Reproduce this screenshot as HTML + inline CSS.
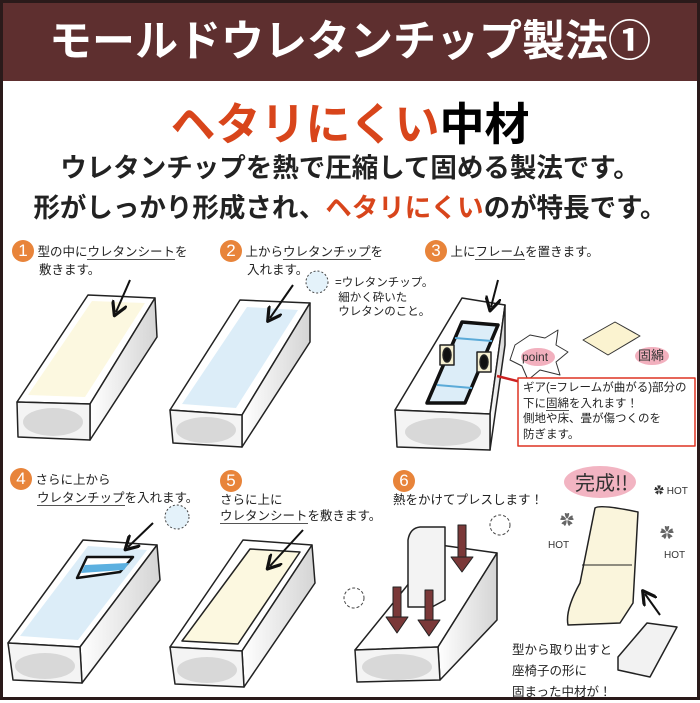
<!DOCTYPE html>
<html><head><meta charset="utf-8"><style>
body{margin:0;width:700px;height:700px;overflow:hidden;background:#fff;font-family:"Liberation Sans","Noto Sans CJK JP",sans-serif;}
.frame{position:absolute;left:0;top:0;width:694px;height:694px;border:3px solid #2a1a1a;}
.hd{position:absolute;left:0;top:0;width:700px;height:81px;background:#5e2f2f;color:#fff;font-weight:bold;font-size:43px;text-align:center;line-height:84px;}
.t{position:absolute;white-space:nowrap;}
.n{display:inline-block;width:22px;height:22px;border-radius:50%;background:#e8843a;color:#fff;text-align:center;line-height:22px;font-size:17px;}
.s{font-size:12.5px;color:#222;line-height:16px;}
u{text-decoration:none;border-bottom:1px solid #555;}
</style></head><body>
<div class="hd">モールドウレタンチップ製法①</div>
<div class="t" style="left:0;width:700px;text-align:center;top:88px;font-size:45px;font-weight:bold;"><span style="color:#d8451b">ヘタリにくい</span>中材</div>
<div class="t" style="left:0;width:700px;text-align:center;top:146px;font-size:26.5px;font-weight:bold;color:#222;">ウレタンチップを熱で圧縮して固める製法です。</div>
<div class="t" style="left:0;width:700px;text-align:center;top:186px;font-size:26.5px;font-weight:bold;color:#222;">形がしっかり形成され、<span style="color:#d8451b">ヘタリにくい</span>のが特長です。</div>

<svg style="position:absolute;left:0;top:0" width="700" height="700" stroke-linejoin="round">
<defs>
<linearGradient id="g" x1="0" x2="1"><stop offset="0" stop-color="#fff"/><stop offset="1" stop-color="#d4d4d4"/></linearGradient>
<marker id="ah" markerWidth="8" markerHeight="8" refX="5" refY="4" orient="auto"><path d="M0,0 L7,4 L0,8" fill="none" stroke="#111" stroke-width="1.6"/></marker>
</defs>
<g stroke="#222" stroke-width="1.5">
<polygon points="17,402 90,404 155,298 88,295" fill="#fff"/>
<polygon points="28,395 85,397 145,303 92,301" fill="#fcf8e0" stroke="none"/>
<polygon points="90,404 155,298 157,337 90,440" fill="url(#g)"/>
<polygon points="17,402 90,404 90,440 18,437" fill="#f4f4f4"/>
<polygon points="170,410 242,415 310,303 240,300" fill="#fff"/>
<polygon points="182,404 236,408 298,310 247,307" fill="#dcedf8" stroke="none"/>
<polygon points="242,415 310,303 310,342 242,447" fill="url(#g)"/>
<polygon points="170,410 242,415 242,447 173,443" fill="#f4f4f4"/>
<polygon points="395,410 490,414 505,305 462,298" fill="#fff"/>
<polygon points="490,414 505,305 505,345 490,450" fill="url(#g)"/>
<polygon points="395,410 490,414 490,450 397,447" fill="#f4f4f4"/>
<polygon points="462,322 498,325 465,403 427,403" fill="#dcedf8" stroke="#111" stroke-width="3.5"/>
<path d="M455,338 L492,341 M437,385 L472,388" stroke="#5aaad8" stroke-width="2"/>
<rect x="440" y="345" width="14" height="20" fill="#f5efd0"/><rect x="477" y="352" width="14" height="20" fill="#f5efd0"/>
<ellipse cx="447" cy="355" rx="4" ry="7" fill="#111"/><ellipse cx="484" cy="362" rx="4" ry="7" fill="#111"/>
<polygon points="8,643 80,647 157,545 83,540" fill="#fff"/>
<polygon points="20,636 78,640 147,550 88,546" fill="#dcedf8" stroke="none"/>
<polygon points="80,647 157,545 160,580 82,683" fill="url(#g)"/>
<polygon points="8,643 80,647 82,683 13,680" fill="#f4f4f4"/>
<polygon points="87,557 133,557 120,572 77,578" fill="#fff" stroke="#111" stroke-width="2.5"/>
<polygon points="85,565 129,563 124,570 81,573" fill="#5cb0e0" stroke="none"/>
<polygon points="170,647 242,651 312,545 243,540" fill="#fff"/>
<polygon points="182,641 238,644 300,552 250,549" fill="#fcf8e0"/>
<polygon points="242,651 312,545 315,583 244,687" fill="url(#g)"/>
<polygon points="170,647 242,651 244,687 175,684" fill="#f4f4f4"/>
<polygon points="355,650 438,647 497,553 440,545" fill="#fff"/>
<polygon points="438,647 497,553 497,620 440,680" fill="url(#g)"/>
<polygon points="355,650 438,647 440,680 357,682" fill="#f4f4f4"/>
<path d="M408,607 L408,540 Q410,528 420,527 L445,527 L445,600 L432,607 Z" fill="#f3f3f3"/>
<path d="M595,508 Q600,504 638,512 L633,603 L620,623 L568,625 Q565,610 580,583 Z" fill="#faf5dc"/>
<path d="M582,565 L632,565" stroke-width="1"/>
<polygon points="647,623 677,627 650,677 618,670 618,657" fill="#f2f2f2"/>
</g>
<g fill="#d8d8d8">
<ellipse cx="53" cy="422" rx="30" ry="14"/><ellipse cx="206" cy="430" rx="30" ry="13"/><ellipse cx="443" cy="432" rx="38" ry="14"/>
<ellipse cx="45" cy="666" rx="30" ry="13"/><ellipse cx="207" cy="670" rx="30" ry="13"/><ellipse cx="397" cy="667" rx="35" ry="13"/>
</g>
<g stroke="#111" stroke-width="2" fill="none" marker-end="url(#ah)">
<path d="M130,280 L116,312"/><path d="M293,285 L270,318"/><path d="M498,280 L491,307"/>
<path d="M153,523 L128,547"/><path d="M303,530 L270,566"/><path d="M660,615 L645,594"/>
</g>
<path d="M525,383 L497,376" stroke="#c22" stroke-width="2.5"/>
<g fill="#7a3838" stroke="#222">
<rect x="458" y="525" width="8" height="32"/><polygon points="451,557 473,557 462,572"/>
<rect x="393" y="587" width="8" height="30"/><polygon points="386,617 408,617 397,633"/>
<rect x="425" y="590" width="8" height="30"/><polygon points="418,620 440,620 429,636"/>
</g>
<circle cx="317" cy="282" r="11" fill="#e4f2fa" stroke="#444" stroke-dasharray="2,2"/>
<circle cx="177" cy="517" r="12" fill="#e4f2fa" stroke="#444" stroke-dasharray="2,2"/>
<circle cx="354" cy="598" r="10" fill="#fff" stroke="#444" stroke-dasharray="3,2"/>
<circle cx="500" cy="525" r="10" fill="#fff" stroke="#444" stroke-dasharray="3,2"/>
<polygon points="515,345 530,335 545,338 558,330 556,345 568,352 556,362 560,375 540,370 528,380 522,366 510,360" fill="#fff" stroke="#333"/>
<ellipse cx="538" cy="357" rx="17" ry="9" fill="#f2b0be"/>
<text x="522" y="361" font-size="12" fill="#333" font-family="Liberation Sans">point</text>
<polygon points="583,340 615,322 640,336 608,355" fill="#fbf3d0" stroke="#333"/>
<ellipse cx="652" cy="356" rx="17" ry="9" fill="#f2b0be"/>
<text x="638" y="360" font-size="13" fill="#333" font-family="Noto Sans CJK JP">固綿</text>
<rect x="518" y="378" width="177" height="68" fill="#fff" stroke="#d32" stroke-width="1.5"/>
<ellipse cx="600" cy="482" rx="36" ry="16" fill="#f2b4c2"/>
<text x="575" y="490" font-size="20" fill="#333" font-family="Noto Sans CJK JP">完成!!</text>
<text x="654" y="494" font-size="10" fill="#333">✿ HOT</text>
<text x="548" y="548" font-size="10" fill="#333">HOT</text>
<text x="664" y="558" font-size="10" fill="#333">HOT</text>
<text x="560" y="525" font-size="14" fill="#666">✿</text>
<text x="660" y="538" font-size="14" fill="#666">✿</text>
</svg>

<div class="t s" style="left:12px;top:240px"><span class="n">1</span> 型の中に<u>ウレタンシート</u>を<br><span style="padding-left:27px">敷きます。</span></div>
<div class="t s" style="left:220px;top:240px"><span class="n">2</span> 上から<u>ウレタンチップ</u>を<br><span style="padding-left:27px">入れます。</span></div>
<div class="t s" style="left:335px;top:276px;font-size:11.5px;line-height:14.5px">=ウレタンチップ。<br>&nbsp;細かく砕いた<br>&nbsp;ウレタンのこと。</div>
<div class="t s" style="left:425px;top:240px"><span class="n">3</span> 上に<u>フレーム</u>を置きます。</div>
<div class="t s" style="left:523px;top:381px;font-size:11.5px;line-height:15.5px">ギア(=フレームが曲がる)部分の<br>下に<u>固綿</u>を入れます！<br>側地や床、畳が傷つくのを<br>防ぎます。</div>
<div class="t s" style="left:10px;top:468px"><span class="n">4</span> さらに上から<br><span style="padding-left:27px"><u>ウレタンチップ</u>を入れます。</span></div>
<div class="t s" style="left:220px;top:470px"><span class="n">5</span><br>さらに上に<br><u>ウレタンシート</u>を敷きます。</div>
<div class="t s" style="left:393px;top:470px"><span class="n">6</span><br>熱をかけてプレスします！</div>
<div class="t s" style="left:512px;top:640px;line-height:21px;font-size:12.5px">型から取り出すと<br>座椅子の形に<br>固まった中材が！</div>
<div class="frame"></div>
</body></html>
